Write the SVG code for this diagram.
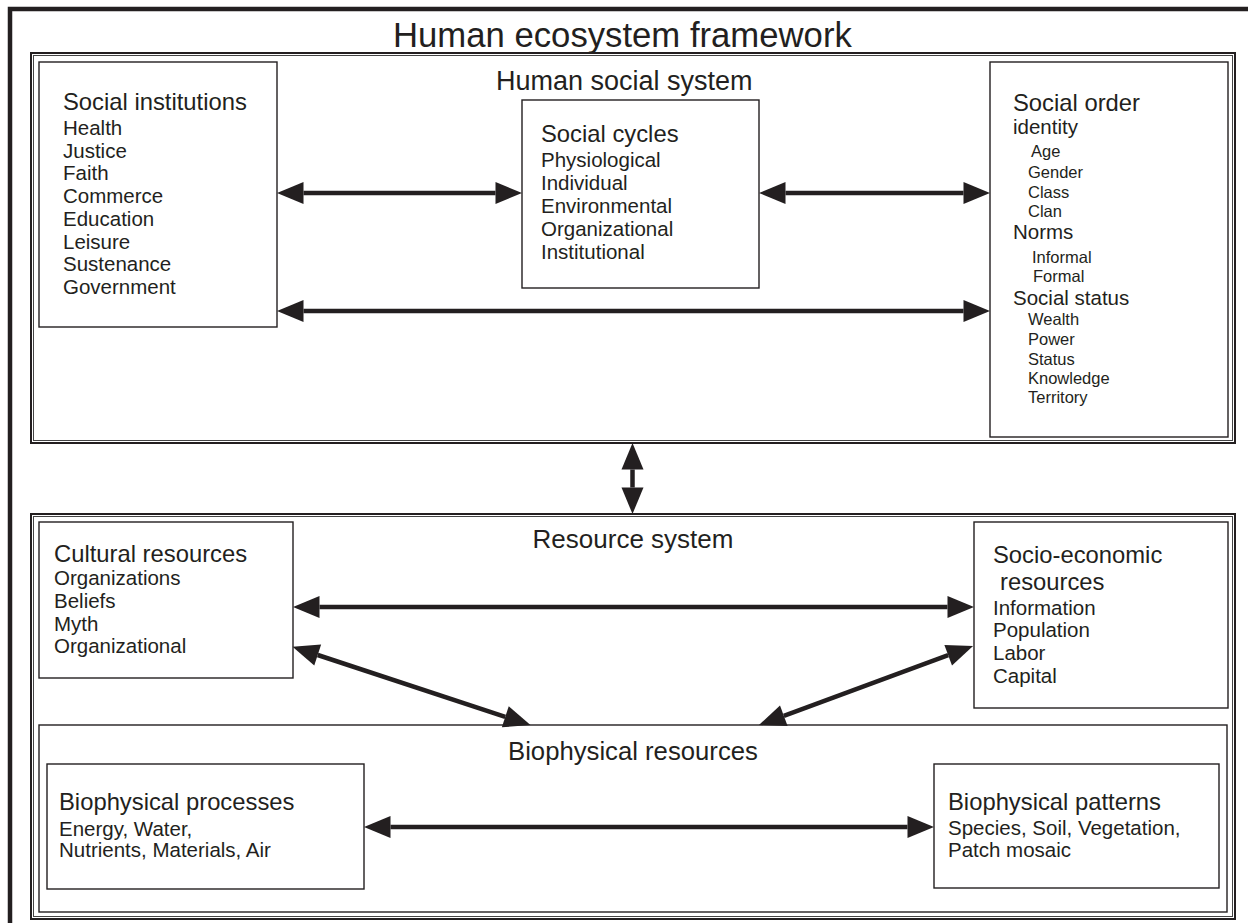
<svg xmlns="http://www.w3.org/2000/svg" width="1248" height="923" viewBox="0 0 1248 923">
<style>
text{font-family:"Liberation Sans",Arial,sans-serif;fill:#231f20}
.t0{font-size:34.7px}
.t1{font-size:27px}
.h{font-size:23.8px}
.i{font-size:20.5px}
.s{font-size:16.5px}
.box{fill:none;stroke:#231f20;stroke-width:1.4}
.big{fill:none;stroke:#231f20;stroke-width:2}
.bigin{fill:none;stroke:#444;stroke-width:1}
.con{stroke:#231f20;stroke-width:4.5;fill:none;marker-start:url(#ah);marker-end:url(#ah)}
</style>
<defs>
<marker id="ah" markerUnits="userSpaceOnUse" markerWidth="27" markerHeight="22" refX="0" refY="11" orient="auto-start-reverse" overflow="visible">
<path d="M0,0 L26.5,11 L0,22 z" fill="#231f20"/>
</marker>
</defs>
<rect width="1248" height="923" fill="#fff"/>
<rect id="frame" x="10" y="9" width="1262" height="944" fill="none" stroke="#231f20" stroke-width="4.5"/>
<text class="t0" x="393" y="47">Human ecosystem framework</text>

<g id="human-social-system">
<rect class="big" x="31" y="53" width="1204" height="390"/>
<rect class="bigin" x="33.5" y="55.5" width="1199" height="385"/>
<text class="t1" x="496" y="90">Human social system</text>
</g>

<g id="social-institutions">
<rect class="box" x="39" y="62" width="238" height="265"/>
<text class="h" x="63" y="110">Social institutions</text>
<text class="i" x="63" y="135">Health</text>
<text class="i" x="63" y="157.7">Justice</text>
<text class="i" x="63" y="180.4">Faith</text>
<text class="i" x="63" y="203.1">Commerce</text>
<text class="i" x="63" y="225.8">Education</text>
<text class="i" x="63" y="248.5">Leisure</text>
<text class="i" x="63" y="271.2">Sustenance</text>
<text class="i" x="63" y="293.9">Government</text>
</g>

<g id="social-cycles">
<rect class="box" x="522" y="100" width="237" height="188"/>
<text class="h" x="541" y="142">Social cycles</text>
<text class="i" x="541" y="167">Physiological</text>
<text class="i" x="541" y="190">Individual</text>
<text class="i" x="541" y="213">Environmental</text>
<text class="i" x="541" y="236">Organizational</text>
<text class="i" x="541" y="259">Institutional</text>
</g>

<g id="social-order">
<rect class="box" x="990" y="62" width="238" height="375"/>
<text class="h" x="1013" y="111">Social order</text>
<text class="i" x="1013" y="134">identity</text>
<text class="s" x="1031" y="157">Age</text>
<text class="s" x="1028" y="178">Gender</text>
<text class="s" x="1028" y="198">Class</text>
<text class="s" x="1028" y="217">Clan</text>
<text class="i" x="1013" y="239">Norms</text>
<text class="s" x="1032" y="263">Informal</text>
<text class="s" x="1033" y="282">Formal</text>
<text class="i" x="1013" y="305">Social status</text>
<text class="s" x="1028" y="325">Wealth</text>
<text class="s" x="1028" y="345">Power</text>
<text class="s" x="1028" y="365">Status</text>
<text class="s" x="1028" y="384">Knowledge</text>
<text class="s" x="1028" y="403">Territory</text>
</g>

<g id="resource-system">
<rect class="big" x="31" y="514" width="1204" height="405"/>
<rect class="bigin" x="33.5" y="516.5" width="1199" height="400"/>
<text class="t1" x="633" y="548" text-anchor="middle" style="font-size:26px">Resource system</text>
</g>

<g id="cultural-resources">
<rect class="box" x="39" y="522" width="254" height="156"/>
<text class="h" x="54" y="562">Cultural resources</text>
<text class="i" x="54" y="585">Organizations</text>
<text class="i" x="54" y="608">Beliefs</text>
<text class="i" x="54" y="631">Myth</text>
<text class="i" x="54" y="653">Organizational</text>
</g>

<g id="socio-economic-resources">
<rect class="box" x="974" y="522" width="254" height="186"/>
<text class="h" x="993" y="563">Socio-economic</text>
<text class="h" x="1000" y="590">resources</text>
<text class="i" x="993" y="615">Information</text>
<text class="i" x="993" y="637">Population</text>
<text class="i" x="993" y="660">Labor</text>
<text class="i" x="993" y="683">Capital</text>
</g>

<g id="biophysical-resources">
<rect class="box" x="39" y="725" width="1188" height="187"/>
<text class="h" x="508" y="760" style="font-size:25.7px">Biophysical resources</text>
</g>

<g id="biophysical-processes">
<rect class="box" x="47" y="764" width="317" height="125"/>
<text class="h" x="59" y="810">Biophysical processes</text>
<text class="i" x="59" y="836">Energy, Water,</text>
<text class="i" x="59" y="857">Nutrients, Materials, Air</text>
</g>

<g id="biophysical-patterns">
<rect class="box" x="934" y="764" width="285" height="124"/>
<text class="h" x="948" y="810">Biophysical patterns</text>
<text class="i" x="948" y="835">Species, Soil, Vegetation,</text>
<text class="i" x="948" y="857">Patch mosaic</text>
</g>

<g id="connectors">
<line class="con" x1="303.5" y1="193" x2="495.5" y2="193"/>
<line class="con" x1="785.5" y1="193" x2="963.5" y2="193"/>
<line class="con" x1="303.5" y1="311" x2="963.5" y2="311"/>
<line class="con" x1="632.5" y1="469.5" x2="632.5" y2="487.5"/>
<line class="con" x1="319.5" y1="607" x2="947.5" y2="607"/>
<line class="con" x1="317.7" y1="655" x2="505.3" y2="716.8"/>
<line class="con" x1="948.2" y1="655.2" x2="783.8" y2="715.8"/>
<line class="con" x1="390.5" y1="827" x2="907.5" y2="827"/>
</g>
</svg>
